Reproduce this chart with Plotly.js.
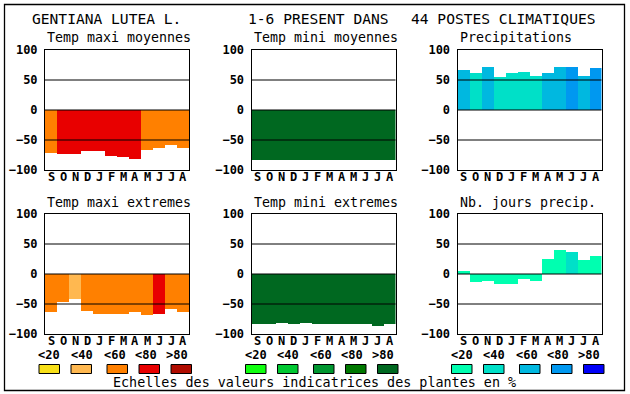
<!DOCTYPE html>
<html><head><meta charset="utf-8">
<script src="https://cdn.plot.ly/plotly-3.0.1.min.js"></script>
<style>html,body{margin:0;padding:0;background:#fff;}#chart{width:630px;height:394px;}</style>
</head><body><div id="chart"></div>
<script>
// ---- data ----
const months = ['S','O','N','D','J','F','M','A','M','J','J','A'];
const classLabels = ['<20','<40','<60','<80','>80'];
const warmColors  = ['#F8E018','#FFB850','#FF8000','#E80000','#B00C00'];
const greenColors = ['#10FF10','#00C832','#009630','#007800','#006820'];
const blueColors  = ['#00FFB0','#00E0C8','#00B8E0','#0098F0','#0000F8'];

const panelTitles = ['Temp maxi moyennes','Temp mini moyennes','Precipitations',
                     'Temp maxi extremes','Temp mini extremes','Nb. jours precip.'];

const tmaxMoyValues = [-71,-74,-73,-68,-68,-76,-78,-81,-66,-64,-58,-64];
const tmaxMoyClass  = [2,3,3,3,3,3,3,3,2,2,2,2];
const tminMoyValues = [-84,-83,-83,-83,-83,-84,-84,-83,-83,-83,-83,-83];
const tminMoyClass  = [4,4,4,4,4,4,4,4,4,4,4,4];
const precipValues  = [66,62,72,55,62,63,57,62,72,72,57,70];
const precipClass   = [2,1,2,1,1,1,1,2,2,3,2,3];
const tmaxExtValues = [-64,-46,-41,-61,-66,-66,-66,-64,-68,-66,-58,-63];
const tmaxExtClass  = [2,2,1,2,2,2,2,2,2,3,2,2];
const tminExtValues = [-83,-84,-81,-83,-81,-83,-84,-83,-84,-83,-86,-84];
const tminExtClass  = [4,4,4,4,4,4,4,4,4,4,4,4];
const joursValues   = [5,-13,-11,-16,-16,-8,-11,25,40,37,23,30];
const joursClass    = [0,0,0,0,0,0,0,0,0,1,0,0];

const yTicks = [-100,-50,0,50,100];
const mainTitleLeft = 'GENTIANA LUTEA L.';
const mainTitleMid = '1-6 PRESENT DANS';
const mainTitleRight = '44 POSTES CLIMATIQUES';
const footer = 'Echelles des valeurs indicatrices des plantes en %';

// ---- layout helpers ----
const W = 630, H = 394;
const X = p => p / W, Y = p => 1 - p / H;
const mono = 'DejaVu Sans Mono, Liberation Mono, monospace';

const panels = [
  {vals: tmaxMoyValues, cls: tmaxMoyClass, pal: warmColors},
  {vals: tminMoyValues, cls: tminMoyClass, pal: greenColors},
  {vals: precipValues,  cls: precipClass,  pal: blueColors},
  {vals: tmaxExtValues, cls: tmaxExtClass, pal: warmColors},
  {vals: tminExtValues, cls: tminExtClass, pal: greenColors},
  {vals: joursValues,   cls: joursClass,   pal: blueColors}
];
const colLeft = [45, 251.5, 457.5];
const plotW = 144;
const rowTop = [50, 214];
const plotH = 120;

const xIdx = months.map((m, i) => i);
const data = [];
const layout = {
  width: W, height: H, margin: {l:0, r:0, t:0, b:0},
  paper_bgcolor: '#fff', plot_bgcolor: '#fff',
  showlegend: false, bargap: 0,
  annotations: [], shapes: []
};
const boldFont = {family: mono, size: 12, weight: 'bold', color: '#000'};

panels.forEach((p, k) => {
  const col = k % 3, row = Math.floor(k / 3);
  const n = k + 1;
  const xa = 'x' + (n === 1 ? '' : n), ya = 'y' + (n === 1 ? '' : n);
  const xk = 'xaxis' + (n === 1 ? '' : n), yk = 'yaxis' + (n === 1 ? '' : n);
  const left = colLeft[col], top = rowTop[row];
  data.push({
    type: 'bar', x: xIdx, y: p.vals, base: 0, width: 1,
    marker: {color: p.cls.map(c => p.pal[c]), line: {width: 0}},
    xaxis: xa, yaxis: ya, hoverinfo: 'skip'
  });
  layout[xk] = {
    domain: [X(left), X(left + plotW)], anchor: ya,
    range: [-0.5, 11.5], showticklabels: false,
    showgrid: false, zeroline: false, showline: true, mirror: true,
    linecolor: '#000', linewidth: 1, ticks: '', layer: 'above traces',
    fixedrange: true
  };
  layout[yk] = {
    domain: [Y(top + plotH), Y(top)], anchor: xa,
    range: [-100, 100], tickvals: yTicks,
    showgrid: false, zeroline: false, showline: true, mirror: true,
    linecolor: '#000', linewidth: 1, ticks: '', layer: 'above traces',
    ticklabelstandoff: 4,
    tickfont: boldFont,
    fixedrange: true
  };
  [50, 0, -50].forEach(v => layout.shapes.push({
    type: 'line', xref: xa + ' domain', yref: ya, x0: 0, x1: 1, y0: v, y1: v,
    line: {color: '#000', width: 1}, layer: 'above'
  }));
  // month labels under each bar
  months.forEach((m, i) => layout.annotations.push({
    xref: xa, yref: 'paper', x: i, y: Y(top + plotH + 7),
    xanchor: 'center', yanchor: 'middle', showarrow: false,
    text: m, font: boldFont
  }));
  layout.annotations.push({
    xref: 'paper', yref: 'paper', x: X(left), y: Y(top - 12),
    xanchor: 'left', yanchor: 'middle', showarrow: false,
    text: panelTitles[k], font: {family: mono, size: 13.3, color: '#000'}
  });
  if (row === 1) {
    const boxOff = [-6, 26, 62, 94, 126];
    const labOff = [4.3, 36.5, 69.5, 100.5, 131.8];
    p.pal.forEach((c, i) => {
      layout.shapes.push({
        type: 'rect', xref: 'paper', yref: 'paper',
        x0: X(left + boxOff[i]), x1: X(left + boxOff[i] + 20.5),
        y0: Y(373.5), y1: Y(364.5),
        fillcolor: c, line: {color: '#000', width: 1}
      });
      layout.annotations.push({
        xref: 'paper', yref: 'paper', x: X(left + labOff[i]), y: Y(354.5),
        xanchor: 'center', yanchor: 'middle', showarrow: false,
        text: classLabels[i].replace('<', '&lt;').replace('>', '&gt;'),
        font: boldFont
      });
    });
  }
});

// frame
layout.shapes.push({
  type: 'rect', xref: 'paper', yref: 'paper',
  x0: X(4.5), x1: X(624.5), y0: Y(390.5), y1: Y(4.5),
  line: {color: '#000', width: 1.3}, fillcolor: 'rgba(0,0,0,0)'
});

const titleFont = {family: mono, size: 14.6, color: '#000'};
layout.annotations.push(
  {xref:'paper', yref:'paper', x: X(30), y: Y(18.5), xanchor:'left', yanchor:'middle',
   showarrow:false, text: mainTitleLeft, font: titleFont},
  {xref:'paper', yref:'paper', x: X(246), y: Y(18.5), xanchor:'left', yanchor:'middle',
   showarrow:false, text: mainTitleMid, font: titleFont},
  {xref:'paper', yref:'paper', x: X(598), y: Y(18.5), xanchor:'right', yanchor:'middle',
   showarrow:false, text: mainTitleRight, font: titleFont},
  {xref:'paper', yref:'paper', x: X(314.5), y: Y(382), xanchor:'center', yanchor:'middle',
   showarrow:false, text: footer, font: {family: mono, size: 13.4, color: '#000'}}
);

Plotly.newPlot('chart', data, layout, {staticPlot: true, displayModeBar: false});
</script>
</body></html>
